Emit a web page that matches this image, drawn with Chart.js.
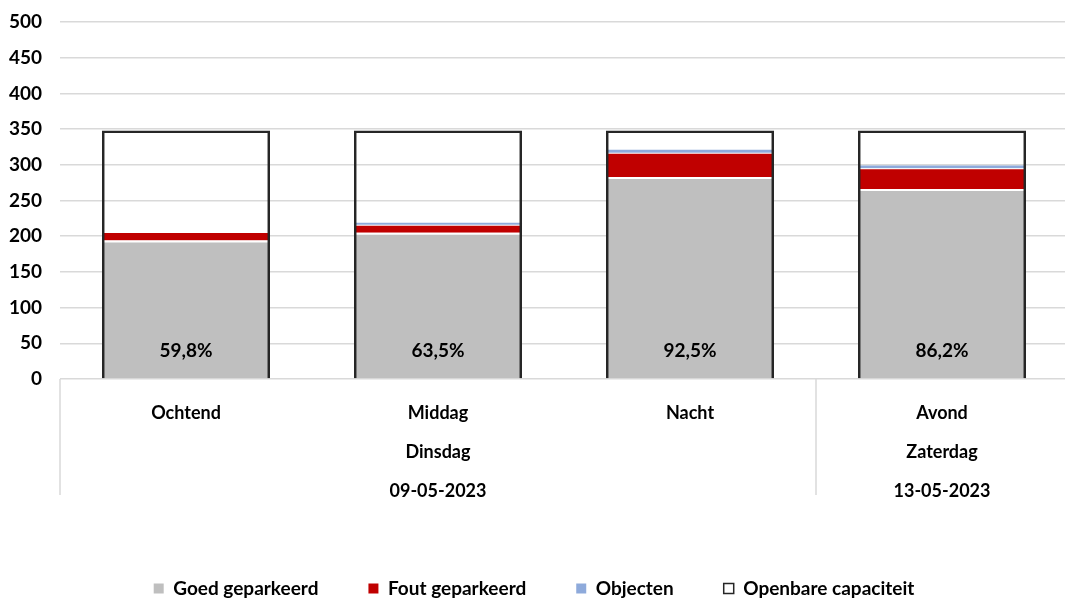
<!DOCTYPE html>
<html>
<head>
<meta charset="utf-8">
<script src="https://cdn.jsdelivr.net/npm/chart.js@4"></script>
<style>
  body { margin: 0; overflow: hidden; background: #fff; }
  #wrap { position: absolute; left: 0; top: 0; width: 1070px; height: 608px; }
</style>
</head>
<body>
<div id="wrap"><canvas id="my-graph"></canvas></div>
<script>
const periods = ["Ochtend", "Middag", "Nacht", "Avond"];
const days = ["", "Dinsdag", "", "Zaterdag"];
const dates = ["", "09-05-2023", "", "13-05-2023"];

const goedGeparkeerd = [194, 205, 283, 266];
const foutGeparkeerd = [12, 11, 34, 29];
const objecten = [0, 3, 4, 4];
const capaciteit = [348, 348, 348, 348];
const bezetting = [59.8, 63.5, 92.5, 86.2];

const labels = periods.map((p, i) => (days[i] ? [p, days[i], dates[i]] : [p]));
const groupEnds = [2]; // separator after "Nacht"

const fontFam = "Lato, 'Open Sans', sans-serif";

const percentLabels = {
  id: "percentLabels",
  afterDatasetsDraw(chart) {
    const c = chart.ctx;
    const meta = chart.getDatasetMeta(0);
    const y0 = chart.scales.y.getPixelForValue(0);
    c.save();
    c.font = "bold 19px " + fontFam;
    c.fillStyle = "#000";
    c.textAlign = "center";
    c.textBaseline = "middle";
    meta.data.forEach((bar, i) => {
      c.fillText(bezetting[i].toFixed(1).replace(".", ",") + "%", bar.x, y0 - 28);
    });
    c.restore();
  },
};

const separators = {
  id: "separators",
  afterDraw(chart) {
    const c = chart.ctx;
    const x = chart.scales.x;
    const area = chart.chartArea;
    const half = (x.getPixelForValue(1) - x.getPixelForValue(0)) / 2;
    const xs = [area.left, x.getPixelForValue(3) + half];
    groupEnds.forEach((g) => xs.push(x.getPixelForValue(g) + half));
    c.save();
    c.strokeStyle = "#d9d9d9";
    c.lineWidth = 1.5;
    xs.forEach((px) => {
      c.beginPath();
      c.moveTo(px, area.bottom);
      c.lineTo(px, area.bottom + 116);
      c.stroke();
    });
    c.restore();
  },
};

const ctx = document.getElementById("my-graph");

const chart = new Chart(ctx, {
  type: "bar",
  data: {
    labels: labels,
    datasets: [
      {
        label: "Goed geparkeerd",
        data: goedGeparkeerd,
        backgroundColor: "#bfbfbf",
        borderColor: "#ffffff",
        borderWidth: { top: 2, left: 0, right: 0, bottom: 0 },
        borderSkipped: false,
        stack: "bezet",
        order: 1,
      },
      {
        label: "Fout geparkeerd",
        data: foutGeparkeerd,
        backgroundColor: "#c00000",
        borderColor: "#ffffff",
        borderWidth: { top: 1, left: 0, right: 0, bottom: 0 },
        borderSkipped: false,
        stack: "bezet",
        order: 1,
      },
      {
        label: "Objecten",
        data: objecten,
        backgroundColor: "#8eaadb",
        borderWidth: 0,
        stack: "bezet",
        order: 1,
      },
      {
        label: "Openbare capaciteit",
        data: capaciteit,
        backgroundColor: "rgba(255,255,255,0)",
        borderColor: "#262626",
        borderWidth: 2.5,
        borderSkipped: "bottom",
        stack: "cap",
        order: 0,
      },
    ],
  },
  options: {
    responsive: true,
    maintainAspectRatio: false,
    animation: false,
    grouped: false,
    categoryPercentage: 1,
    barPercentage: 0.667,
    layout: { padding: { top: 22, right: 2, left: 0, bottom: 0 } },
    scales: {
      x: {
        stacked: true,
        grid: { display: false },
        border: { display: false },
        ticks: {
          color: "#000",
          padding: 7,
          maxRotation: 0,
          autoSkip: false,
          font: { family: fontFam, size: 18, weight: "bold", lineHeight: 2.17 },
        },
        afterFit(scale) {
          scale.height = 150;
          scale.paddingLeft = 0;
          scale.paddingRight = 0;
        },
      },
      y: {
        stacked: true,
        min: 0,
        max: 500,
        ticks: {
          stepSize: 50,
          color: "#000",
          padding: 18,
          font: { family: fontFam, size: 19, weight: "bold" },
        },
        grid: { color: "#d9d9d9", lineWidth: 1.5, drawTicks: false },
        border: { display: false },
        afterFit(scale) {
          scale.width = 60;
          scale.paddingTop = 0;
          scale.paddingBottom = 0;
        },
      },
    },
    plugins: {
      legend: {
        position: "bottom",
        labels: {
          color: "#000",
          boxWidth: 10,
          boxHeight: 10,
          padding: 50,
          font: { family: fontFam, size: 19, weight: "bold" },
          sort: (a, b) => a.datasetIndex - b.datasetIndex,
          generateLabels(chart) {
            const items = Chart.defaults.plugins.legend.labels.generateLabels(chart);
            items.forEach((it) => {
              it.lineWidth = it.datasetIndex === 3 ? 1.5 : 0;
              if (it.datasetIndex === 3) it.fillStyle = "#ffffff";
            });
            return items;
          },
        },
      },
      tooltip: { enabled: false },
    },
  },
  plugins: [percentLabels, separators],
});
</script>
</body>
</html>
